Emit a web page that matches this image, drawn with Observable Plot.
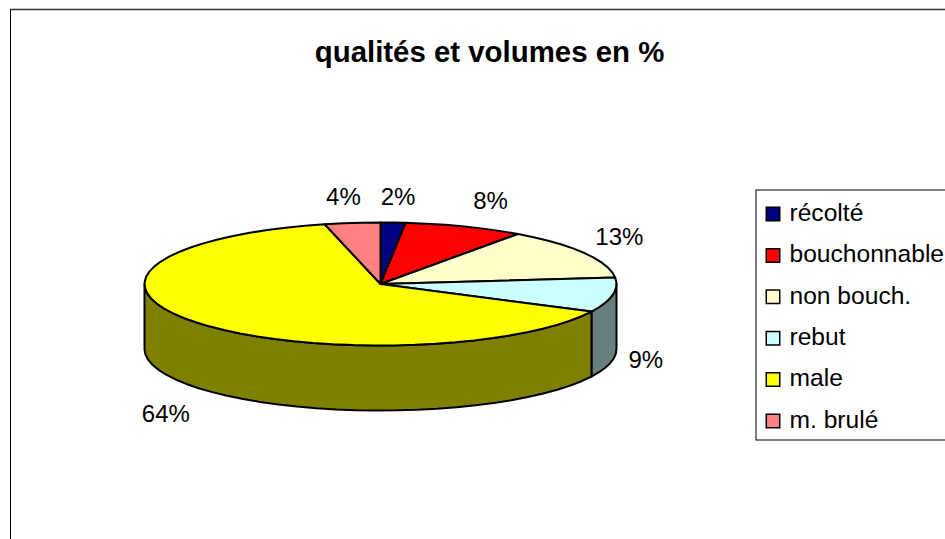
<!DOCTYPE html>
<html>
<head>
<meta charset="utf-8">
<script src="https://cdn.jsdelivr.net/npm/d3@7"></script>
<script src="https://cdn.jsdelivr.net/npm/@observablehq/plot@0.6"></script>
<style>html,body{margin:0;padding:0;background:#fff;overflow:hidden}svg{display:block}</style>
</head>
<body>
<div id="chart"></div>
<script>
// Data
const categories = ["récolté", "bouchonnable", "non bouch.", "rebut", "male", "m. brulé"];
const values = [1.7, 8.2, 13.4, 9.1, 63.8, 3.8];
const labels = ["2%", "8%", "13%", "9%", "64%", "4%"];
const topColors = ["#000080", "#ff0000", "#ffffcc", "#ccffff", "#ffff00", "#ff8080"];
const sideColors = ["#000040", "#800000", "#808066", "#668080", "#808000", "#804040"];

// Layout
const W = 945, H = 539;
const cx = 380, cy = 283.5, rx = 236, ry = 61.5, depth = 65;
const labelNudge = [[5, -25], [26, -25], [35, -16], [33, 65], [-30, 92], [-9, -25.5]];
const fontFamily = "'Liberation Sans', Arial, sans-serif";

const project = (deg, drop = 0) => {
  const t = deg * Math.PI / 180;
  return {x: cx + rx * Math.sin(t), y: cy - ry * Math.cos(t) + drop};
};
const arc = (a0, a1, drop = 0) => {
  const n = Math.max(1, Math.ceil((a1 - a0) / 5));
  return d3.range(n + 1).map(i => project(a0 + (a1 - a0) * i / n, drop));
};

// Slices from the values
const total = d3.sum(values);
let cum = 0;
const slices = values.map((v, i) => {
  const a0 = cum / total * 360;
  cum += v;
  return {i, a0, a1: cum / total * 360};
});

const topPolys = [], sidePolys = [];
for (const s of slices) {
  const c = {x: cx, y: cy};
  [c, ...arc(s.a0, s.a1), c].forEach(p => topPolys.push({...p, id: s.i, fill: topColors[s.i]}));
  const f0 = Math.max(s.a0, 90), f1 = Math.min(s.a1, 270);
  if (f1 > f0) {
    [...arc(f0, f1), ...arc(f0, f1, depth).reverse(), project(f0)]
      .forEach(p => sidePolys.push({...p, id: s.i, fill: sideColors[s.i]}));
  }
}

const labelData = slices.map(s => {
  const p = project((s.a0 + s.a1) / 2);
  return {x: p.x + labelNudge[s.i][0], y: p.y + labelNudge[s.i][1], text: labels[s.i]};
});

const legendRows = categories.map((name, i) => ({name, fill: topColors[i], y: 213.5 + i * 41.4}));

const chart = Plot.plot({
  width: W, height: H,
  margin: 0,
  style: {background: "#fff", fontFamily},
  x: {domain: [0, W], range: [0, W], axis: null},
  y: {domain: [0, H], range: [0, H], axis: null},
  marks: [
    // chart frame
    Plot.ruleX([10], {y1: 9, y2: H, stroke: "#000", strokeWidth: 1}),
    Plot.ruleY([9], {x1: 10, x2: W, stroke: "#333", strokeWidth: 1.3}),
    // pie
    Plot.line(sidePolys, {x: "x", y: "y", z: "id", fill: "fill", stroke: "#000", strokeWidth: 2, curve: "linear", strokeLinejoin: "round"}),
    Plot.line(topPolys, {x: "x", y: "y", z: "id", fill: "fill", stroke: "#000", strokeWidth: 2, curve: "linear", strokeLinejoin: "round"}),
    // percentages
    Plot.text(labelData, {x: "x", y: "y", text: "text", fontSize: 24, fill: "#000", textAnchor: "middle"}),
    // title
    Plot.text(["qualités et volumes en %"], {x: 489, y: 52, text: d => d, fontSize: 29.4, fontWeight: "bold", fill: "#000", textAnchor: "middle"}),
    // legend
    Plot.rect([0], {x1: 756, x2: W + 5, y1: 190, y2: 440, fill: "#fff", stroke: "#000", strokeWidth: 1}),
    Plot.dot(legendRows, {x: 772.5, y: "y", symbol: "square", r: 7.6, fill: "fill", stroke: "#000", strokeWidth: 1.5}),
    Plot.text(legendRows, {x: 789, y: d => d.y - 1, text: "name", textAnchor: "start", fontSize: 24.6, fill: "#000"})
  ]
});
document.getElementById("chart").appendChild(chart);
</script>
</body>
</html>
